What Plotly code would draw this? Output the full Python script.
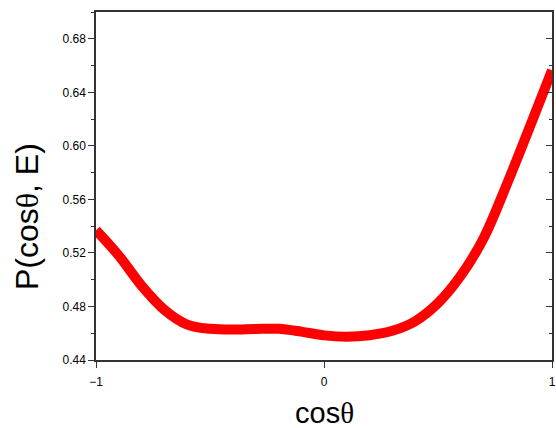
import plotly.graph_objects as go

cos_theta = [-1.0, -0.9, -0.8, -0.7, -0.6, -0.5, -0.4, -0.3, -0.2, -0.1, 0.0,
             0.1, 0.2, 0.3, 0.4, 0.5, 0.6, 0.7, 0.8, 0.9, 1.0]
prob = [0.5370, 0.5180, 0.4955, 0.4775, 0.4665, 0.4633, 0.4627, 0.4632, 0.4633,
        0.4612, 0.4584, 0.4574, 0.4585, 0.4618, 0.4690, 0.4825, 0.5030, 0.5310,
        0.5705, 0.6130, 0.6565]

x_ticks = [-1, 0, 1]
x_tick_labels = ["\u22121", "0", "1"]
y_ticks = [0.44, 0.48, 0.52, 0.56, 0.60, 0.64, 0.68]
x_title = "cos<span style='font-family:Liberation Serif'>\u03b8</span>"
y_title = "P(cos<span style='font-family:Liberation Serif'>\u03b8</span>, E)"

fig = go.Figure()
fig.add_trace(go.Scatter(x=cos_theta, y=prob, mode="lines",
                         line=dict(color="#ff0000", width=10, shape="spline", smoothing=1.0),
                         showlegend=False, hoverinfo="skip"))
fig.add_trace(go.Scatter(x=cos_theta, y=prob, mode="lines", yaxis="y2",
                         line=dict(color="rgba(0,0,0,0)", width=0),
                         showlegend=False, hoverinfo="skip"))

font = "Liberation Sans, Arial, sans-serif"
fig.update_layout(
    width=556, height=428,
    margin=dict(l=96, r=4, t=12, b=68),
    paper_bgcolor="white", plot_bgcolor="white",
    font=dict(family=font, color="black", size=12),
    xaxis=dict(range=[-1, 1], tickvals=x_ticks, ticktext=x_tick_labels,
               ticks="outside", ticklen=6, tickwidth=1.2, tickcolor="#333",
               ticklabelstandoff=4,
               showline=True, linecolor="#333", linewidth=1.5, mirror=True,
               showgrid=False, zeroline=False, automargin=False,
               tickfont=dict(size=12, family=font)),
    yaxis=dict(range=[0.44, 0.70], tickvals=y_ticks, tickformat=".2f",
               ticks="outside", ticklen=6, tickwidth=1.2, tickcolor="#333",
               minor=dict(dtick=0.02, tick0=0.44, ticks="outside", ticklen=3, tickcolor="#333", tickwidth=1.2),
               showline=True, linecolor="#333", linewidth=1.5, mirror=True,
               showgrid=False, zeroline=False, automargin=False,
               tickfont=dict(size=12, family=font)),
    yaxis2=dict(range=[0.44, 0.70], overlaying="y", side="right",
                tickvals=y_ticks, showticklabels=False,
                ticks="inside", ticklen=6, tickwidth=1.2, tickcolor="#333",
                minor=dict(dtick=0.02, tick0=0.44, ticks="inside", ticklen=3, tickcolor="#333", tickwidth=1.2),
                showline=False, showgrid=False, zeroline=False, automargin=False),
    annotations=[
        dict(text=x_title, xref="paper", yref="paper", x=0.5, y=-0.152,
             xanchor="center", yanchor="middle", showarrow=False,
             font=dict(size=29, family=font, color="black")),
        dict(text=y_title, xref="paper", yref="paper", x=-0.151, y=0.411,
             xanchor="center", yanchor="middle", showarrow=False, textangle=-90,
             font=dict(size=32, family=font, color="black")),
    ],
)

fig.write_html("out.html", post_script="document.body.style.margin='0px';",
               config={"displayModeBar": False})
